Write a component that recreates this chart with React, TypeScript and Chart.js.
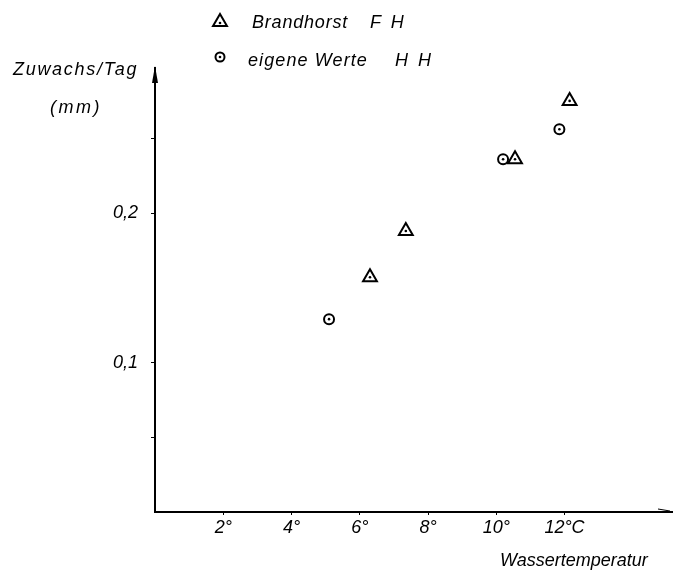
import React, { useEffect, useRef } from 'react';
import { Chart, registerables } from 'chart.js';

Chart.register(...registerables);

// Data
const fhTemp = [6.3, 7.35, 10.55, 12.15];
const fhGrowth = [0.157, 0.188, 0.236, 0.275];
const hhTemp = [5.1, 10.2, 11.85];
const hhGrowth = [0.129, 0.236, 0.256];

const xTickValues = [2, 4, 6, 8, 10, 12];
const xTickLabels = ['2°', '4°', '6°', '8°', '10°', '12°C'];
const yTickValues = [0.05, 0.1, 0.2, 0.25];
const yTickLabels = ['', '0,1', '0,2', ''];

const seriesNames = ['Brandhorst', 'eigene Werte'];
const seriesCodes = ['F H', 'H H'];
const yTitle = 'Zuwachs/Tag';
const yUnit = '(mm)';
const xTitle = 'Wassertemperatur';

const FONT = '"Liberation Sans", Arial, sans-serif';
const W = 682;
const H = 571;
const AXIS_X = 155;
const AXIS_Y = 512;

const decorPlugin = {
  id: 'decor',
  afterDraw(chart: any) {
    const ctx = chart.ctx;
    const area = chart.chartArea;
    ctx.save();
    ctx.fillStyle = '#000';
    ctx.strokeStyle = '#000';
    // y-axis arrow head
    ctx.beginPath();
    ctx.moveTo(area.left, area.top - 2);
    ctx.lineTo(area.left - 3, area.top + 15);
    ctx.lineTo(area.left + 3, area.top + 15);
    ctx.closePath();
    ctx.fill();
    // x-axis arrow hint
    ctx.lineWidth = 1;
    ctx.beginPath();
    ctx.moveTo(area.right - 14, area.bottom - 3);
    ctx.lineTo(area.right - 2, area.bottom - 1);
    ctx.stroke();
    // legend markers
    ctx.lineWidth = 2;
    const tx = 220, ty = 22, r = 8;
    ctx.beginPath();
    ctx.moveTo(tx, ty - r);
    ctx.lineTo(tx - r * 0.87, ty + r * 0.5);
    ctx.lineTo(tx + r * 0.87, ty + r * 0.5);
    ctx.closePath();
    ctx.stroke();
    ctx.beginPath();
    ctx.arc(tx, ty + 1, 1.3, 0, Math.PI * 2);
    ctx.fill();
    const cx = 220, cy = 57;
    ctx.beginPath();
    ctx.arc(cx, cy, 4.5, 0, Math.PI * 2);
    ctx.stroke();
    ctx.beginPath();
    ctx.arc(cx, cy, 1.3, 0, Math.PI * 2);
    ctx.fill();
    ctx.restore();
  },
};

export default function App() {
  const canvasRef = useRef<HTMLCanvasElement | null>(null);

  useEffect(() => {
    const canvas = canvasRef.current;
    if (!canvas) return;
    const fh = fhTemp.map((x, i) => ({ x, y: fhGrowth[i] }));
    const hh = hhTemp.map((x, i) => ({ x, y: hhGrowth[i] }));
    const chart = new Chart(canvas, {
      type: 'scatter',
      data: {
        datasets: [
          {
            label: seriesNames[0] + ' ' + seriesCodes[0],
            data: fh,
            pointStyle: 'triangle',
            pointRadius: 8,
            borderWidth: 2,
            borderColor: '#000',
            backgroundColor: '#fff',
            order: 2,
          },
          {
            label: seriesNames[1] + ' ' + seriesCodes[1],
            data: hh,
            pointStyle: 'circle',
            pointRadius: 5,
            borderWidth: 2,
            borderColor: '#000',
            backgroundColor: '#fff',
            order: 2,
          },
          {
            label: 'fh-dot',
            data: fh,
            pointStyle: 'circle',
            pointRadius: 1.3,
            borderWidth: 0,
            backgroundColor: '#000',
            order: 0,
          },
          {
            label: 'hh-dot',
            data: hh,
            pointStyle: 'circle',
            pointRadius: 1.3,
            borderWidth: 0,
            backgroundColor: '#000',
            order: 0,
          },
        ],
      },
      options: {
        animation: false,
        responsive: false,
        maintainAspectRatio: false,
        layout: { padding: { top: 68, right: 7, left: 0, bottom: 0 } },
        plugins: {
          legend: { display: false },
          tooltip: { enabled: false },
        },
        scales: {
          x: {
            type: 'linear',
            min: 0,
            max: 15.15,
            afterFit: (s: any) => {
              s.height = H - AXIS_Y;
            },
            afterBuildTicks: (s: any) => {
              s.ticks = xTickValues.map((v) => ({ value: v }));
            },
            ticks: {
              autoSkip: false,
              maxRotation: 0,
              padding: 2,
              color: '#000',
              font: { family: FONT, size: 18, style: 'italic' },
              callback: (v: any) => {
                const i = xTickValues.indexOf(Number(v));
                return i >= 0 ? xTickLabels[i] : '';
              },
            },
            grid: {
              display: true,
              drawOnChartArea: false,
              drawTicks: true,
              tickLength: 3,
              color: '#000',
              lineWidth: 1,
            },
            border: { display: true, color: '#000', width: 2 },
          },
          y: {
            type: 'linear',
            min: 0,
            max: 0.297,
            afterFit: (s: any) => {
              s.width = AXIS_X;
            },
            afterBuildTicks: (s: any) => {
              s.ticks = yTickValues.map((v) => ({ value: v }));
            },
            ticks: {
              autoSkip: false,
              padding: 13,
              color: '#000',
              font: { family: FONT, size: 18, style: 'italic' },
              callback: (v: any) => {
                const i = yTickValues.indexOf(Number(v));
                return i >= 0 ? yTickLabels[i] : '';
              },
            },
            grid: {
              display: true,
              drawOnChartArea: false,
              drawTicks: true,
              tickLength: 4,
              color: '#000',
              lineWidth: 1,
            },
            border: { display: true, color: '#000', width: 2 },
          },
        },
      },
      plugins: [decorPlugin],
    });
    return () => chart.destroy();
  }, []);

  const txt = (left: number, top: number, ls: number): React.CSSProperties => ({
    position: 'absolute',
    left,
    top,
    fontFamily: FONT,
    fontStyle: 'italic',
    fontSize: 18,
    lineHeight: '18px',
    letterSpacing: ls,
    color: '#000',
    whiteSpace: 'pre',
  });

  return (
    <div style={{ position: 'fixed', left: 0, top: 0, width: W, height: H, background: '#fff' }}>
      <canvas ref={canvasRef} width={W} height={H} style={{ position: 'absolute', left: 0, top: 0, width: W, height: H }} />
      <div style={txt(252, 13, 0.8)}>{seriesNames[0]}</div>
      <div style={txt(370, 13, 2.5)}>{seriesCodes[0]}</div>
      <div style={txt(248, 51, 1.1)}>{seriesNames[1]}</div>
      <div style={txt(395, 51, 2.5)}>{seriesCodes[1]}</div>
      <div style={txt(13, 60, 1.7)}>{yTitle}</div>
      <div style={txt(50, 98, 2.5)}>{yUnit}</div>
      <div style={txt(500, 551, 0)}>{xTitle}</div>
    </div>
  );
}
